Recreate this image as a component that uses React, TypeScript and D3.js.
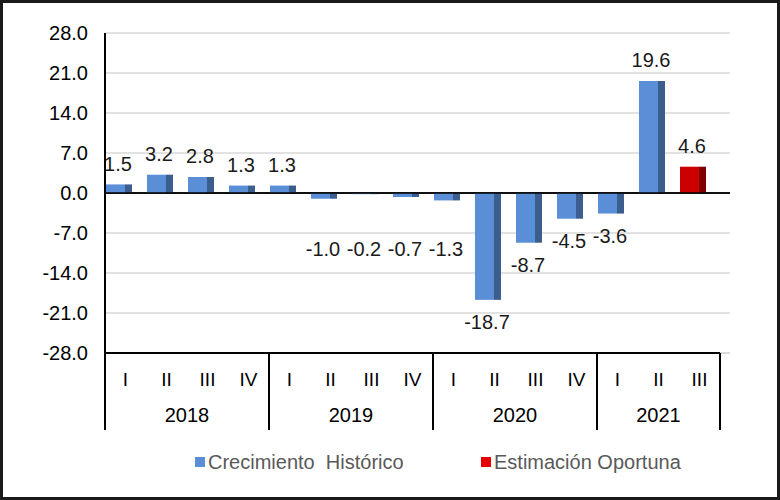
import React from 'react';
import * as d3 from 'd3';

// quarterly growth, 2018 I - 2021 III
const quarters = ['I', 'II', 'III', 'IV', 'I', 'II', 'III', 'IV', 'I', 'II', 'III', 'IV', 'I', 'II', 'III'];
const years = ['2018', '2019', '2020', '2021'];
const quartersPerYear = [4, 4, 4, 3];
const historico: (number | null)[] = [1.5, 3.2, 2.8, 1.3, 1.3, -1.0, -0.2, -0.7, -1.3, -18.7, -8.7, -4.5, -3.6, 19.6, null];
const oportuna: (number | null)[] = [null, null, null, null, null, null, null, null, null, null, null, null, null, null, 4.6];
const yTicks = [28, 21, 14, 7, 0, -7, -14, -21, -28];

const W = 780;
const H = 500;
const font = "'Liberation Sans', Arial, sans-serif";

const App = () => {
  const left = 105;
  const top = 33;
  const bottom = 353;
  const step = 41.0;
  const catEnd = left + step * quarters.length;
  const gridEnd = 730;

  const y = d3.scaleLinear().domain([-28, 28]).range([bottom, top]);
  const x = d3
    .scaleBand<number>()
    .domain(d3.range(quarters.length))
    .range([left, catEnd])
    .padding(0);

  const barW = 26;
  const sideW = 7;

  const series = [
    { name: 'Crecimiento  Histórico', values: historico, front: '#5A8ED6', side: '#3B5E8E', key: '#5A8ED6' },
    { name: 'Estimación Oportuna', values: oportuna, front: '#CC0000', side: '#7F0000', key: '#E60000' },
  ];

  // label placement
  const labelY = (v: number) => {
    if (v >= 0) return y(v) - 21;
    if (v > -2) return y(-9.8);
    return y(v) + 22;
  };

  // year group boundaries
  const bounds: number[] = [0];
  quartersPerYear.forEach((n) => bounds.push(bounds[bounds.length - 1] + n));

  return (
    <div style={{ position: 'fixed', left: 0, top: 0 }}>
      <svg width={W} height={H} style={{ display: 'block', fontFamily: font }}>
        <rect x={0} y={0} width={W} height={H} fill="#fff" />
        <rect x={1.5} y={1.5} width={W - 3} height={H - 3} fill="none" stroke="#1a1a1a" strokeWidth={3} />

        {/* grid */}
        {yTicks.map((t) => (
          <line key={t} x1={left} x2={gridEnd} y1={y(t)} y2={y(t)} stroke={t === 0 ? '#000' : '#D9D9D9'} strokeWidth={1.5} />
        ))}
        {yTicks.map((t) => (
          <text key={'l' + t} x={88} y={y(t)} dy="0.36em" textAnchor="end" fontSize={20} fill="#000">
            {t.toFixed(1)}
          </text>
        ))}

        {/* bars */}
        {series.map((s) =>
          s.values.map((v, i) => {
            if (v === null) return null;
            const x0 = (x(i) as number) + 1;
            const y0 = Math.min(y(v), y(0));
            const h = Math.abs(y(v) - y(0));
            return (
              <g key={s.name + i}>
                <rect x={x0} y={y0} width={barW - sideW} height={h} fill={s.front} />
                <rect x={x0 + barW - sideW} y={y0} width={sideW} height={h} fill={s.side} />
                <text x={x0 + barW / 2 - 1} y={labelY(v)} dy="0.36em" textAnchor="middle" fontSize={20} fill="#1a1a1a">
                  {v.toFixed(1)}
                </text>
              </g>
            );
          })
        )}

        {/* zero line on top */}
        <line x1={left} x2={gridEnd} y1={y(0)} y2={y(0)} stroke="#000" strokeWidth={1.5} />

        {/* axes */}
        <line x1={left} x2={left} y1={top} y2={bottom} stroke="#000" strokeWidth={2} />
        <line x1={left} x2={catEnd} y1={bottom} y2={bottom} stroke="#000" strokeWidth={2} />
        <line x1={catEnd} x2={gridEnd} y1={bottom} y2={bottom} stroke="#D9D9D9" strokeWidth={1.5} />

        {/* category axis */}
        {quarters.map((q, i) => (
          <text key={'q' + i} x={(x(i) as number) + x.bandwidth() / 2} y={379} dy="0.36em" textAnchor="middle" fontSize={19} fill="#000">
            {q}
          </text>
        ))}
        {bounds.map((b, i) => {
          const bx = b < quarters.length ? (x(b) as number) : catEnd;
          return <line key={'b' + i} x1={bx} x2={bx} y1={bottom} y2={430} stroke="#000" strokeWidth={2} />;
        })}
        {years.map((yr, i) => {
          const x1 = x(bounds[i]) as number;
          const x2 = bounds[i + 1] < quarters.length ? (x(bounds[i + 1]) as number) : catEnd;
          return (
            <text key={yr} x={(x1 + x2) / 2} y={415} dy="0.36em" textAnchor="middle" fontSize={20} fill="#000">
              {yr}
            </text>
          );
        })}

        {/* legend */}
        {series.map((s, i) => {
          const lx = i === 0 ? 195 : 481;
          return (
            <g key={'lg' + i}>
              <rect x={lx} y={457} width={10} height={10} fill={s.key} />
              <text x={lx + 13} y={462} dy="0.36em" fontSize={20} fill="#595959" style={{ whiteSpace: 'pre' }}>
                {s.name}
              </text>
            </g>
          );
        })}
      </svg>
    </div>
  );
};

export default App;
